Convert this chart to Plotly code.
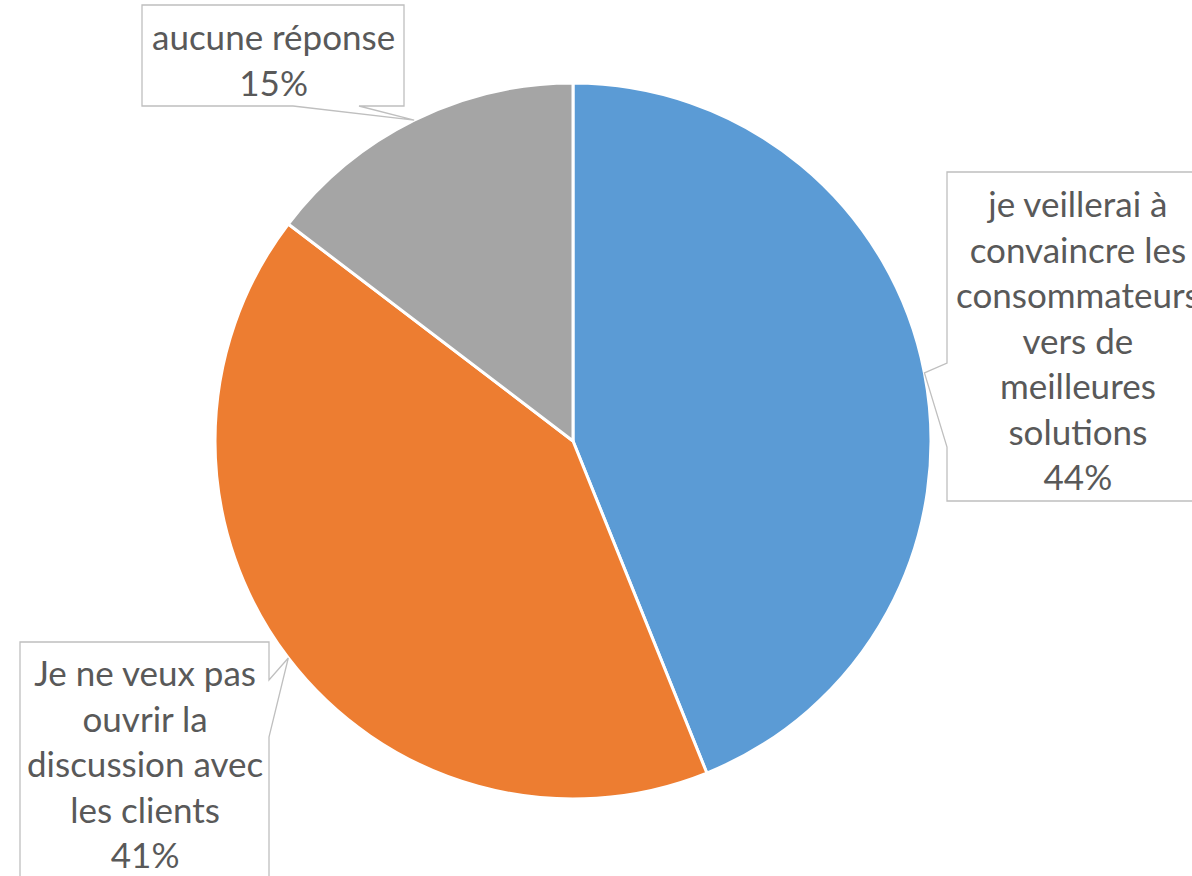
import math
import plotly.graph_objects as go

# ---- data ----
categories = [
    "je veillerai à convaincre les consommateurs vers de meilleures solutions",
    "Je ne veux pas ouvrir la discussion avec les clients",
    "aucune réponse",
]
counts = [18, 17, 6]
label_text = [
    "je veillerai à<br>convaincre les<br>consommateurs<br>vers de<br>meilleures<br>solutions",
    "Je ne veux pas<br>ouvrir la<br>discussion avec<br>les clients",
    "aucune réponse",
]
colors = ["#5B9BD5", "#ED7D31", "#A5A5A5"]

# ---- layout constants (pixels) ----
W, H = 1192, 876
CX, CY, R = 573, 441, 358
# box: (left, top, right, bottom), pointer side, pointer base (a, b), text center
boxes = [
    dict(box=(947, 172, 1215, 501), side="left", base=(363, 447), tc=(1078, 339)),
    dict(box=(20, 642, 269, 905), side="right", base=(680, 737), tc=(145, 763)),
    dict(box=(142, 5, 404, 106), side="bottom", base=(293, 359), tc=(273, 59)),
]

def px(x):
    return x / W

def py(y):
    return 1 - y / H

total = sum(counts)
pcts = [c / total * 100 for c in counts]

fig = go.Figure(go.Pie(
    labels=categories,
    values=counts,
    sort=False,
    direction="clockwise",
    rotation=0,
    marker=dict(colors=colors, line=dict(color="white", width=3)),
    textinfo="none",
    showlegend=False,
    domain=dict(x=[px(CX - R), px(CX + R)], y=[py(CY + R), py(CY - R)]),
))

shapes = []
annotations = []
cum = 0
for i, c in enumerate(counts):
    mid = (cum + c / 2) / total * 2 * math.pi
    cum += c
    tx = CX + R * math.sin(mid)
    ty = CY - R * math.cos(mid)
    b = boxes[i]
    l, t, r, bt = b["box"]
    a0, a1 = b["base"]
    if b["side"] == "left":
        pts = [(l, t), (r, t), (r, bt), (l, bt), (l, a1), (tx, ty), (l, a0)]
    elif b["side"] == "right":
        pts = [(l, t), (r, t), (r, a0), (tx, ty), (r, a1), (r, bt), (l, bt)]
    else:
        pts = [(l, t), (r, t), (r, bt), (a1, bt), (tx, ty), (a0, bt), (l, bt)]
    path = "M " + " L ".join(f"{px(x):.5f},{py(y):.5f}" for x, y in pts) + " Z"
    shapes.append(dict(type="path", xref="paper", yref="paper", path=path,
                       fillcolor="white", line=dict(color="#BFBFBF", width=1.3),
                       layer="above"))
    annotations.append(dict(
        xref="paper", yref="paper", x=px(b["tc"][0]), y=py(b["tc"][1]),
        xanchor="center", yanchor="middle", showarrow=False, align="center",
        text=f"{label_text[i]}<br>{round(pcts[i])}%",
        font=dict(family="Lato, Carlito, Calibri, sans-serif", size=35, color="#595959"),
    ))

fig.update_layout(
    width=W, height=H,
    margin=dict(l=0, r=0, t=0, b=0),
    paper_bgcolor="white",
    plot_bgcolor="white",
    shapes=shapes,
    annotations=annotations,
)

fig.write_html("out.html", config={"displayModeBar": False},
               post_script="document.body.style.margin='0';")
